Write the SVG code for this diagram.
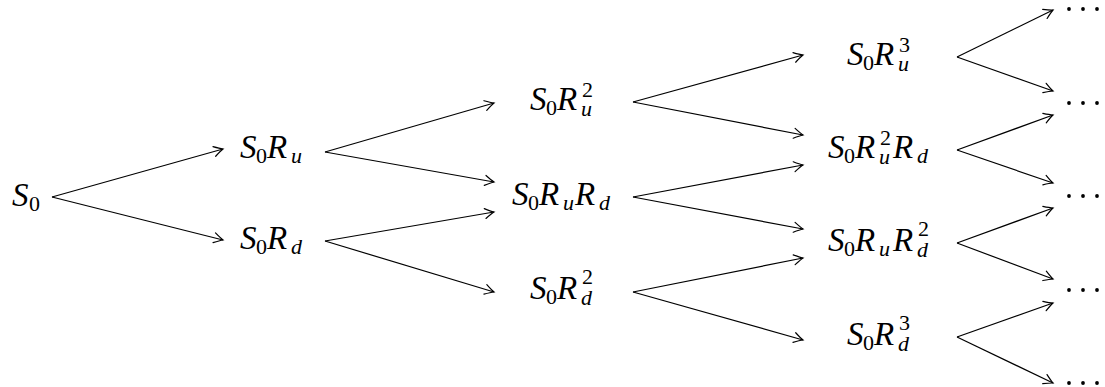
<svg xmlns="http://www.w3.org/2000/svg" width="1105" height="387" viewBox="0 0 1105 387">
<style>
text{font-family:'Liberation Serif','Times New Roman',serif;font-size:33px;font-style:italic;fill:#000}
.s{font-size:22px}
.n{font-style:normal}
.e{stroke:#000;stroke-width:1.2;fill:none;marker-end:url(#ar)}
</style>
<defs>
<marker id="ar" viewBox="-11 -7 13 14" refX="0" refY="0" markerWidth="13" markerHeight="14" markerUnits="userSpaceOnUse" orient="auto">
<path d="M -9 -5 Q -3 -1.3 0 0 Q -3 1.3 -9 5" stroke="#000" stroke-width="1.2" fill="none" stroke-linecap="round"/>
</marker>
<g id="dots"><circle cx="1069" cy="0" r="1.9"/><circle cx="1083" cy="0" r="1.9"/><circle cx="1097" cy="0" r="1.9"/></g>
</defs>
<rect width="1105" height="387" fill="#fff"/>
<g id="connectors">
<line class="e" x1="52" y1="197" x2="223" y2="149"/>
<line class="e" x1="52" y1="197" x2="223" y2="240"/>
<line class="e" x1="325" y1="152" x2="494" y2="103"/>
<line class="e" x1="325" y1="152" x2="494" y2="182"/>
<line class="e" x1="325" y1="241" x2="494" y2="212"/>
<line class="e" x1="325" y1="241" x2="494" y2="292"/>
<line class="e" x1="633" y1="102" x2="803" y2="55"/>
<line class="e" x1="633" y1="102" x2="803" y2="135"/>
<line class="e" x1="633" y1="197" x2="803" y2="165"/>
<line class="e" x1="633" y1="197" x2="803" y2="229"/>
<line class="e" x1="633" y1="292" x2="803" y2="258"/>
<line class="e" x1="633" y1="292" x2="803" y2="340"/>
<line class="e" x1="957" y1="57" x2="1053" y2="10"/>
<line class="e" x1="957" y1="57" x2="1053" y2="91"/>
<line class="e" x1="957" y1="150" x2="1053" y2="115"/>
<line class="e" x1="957" y1="150" x2="1053" y2="183"/>
<line class="e" x1="957" y1="243" x2="1053" y2="208"/>
<line class="e" x1="957" y1="243" x2="1053" y2="279"/>
<line class="e" x1="957" y1="337" x2="1053" y2="303"/>
<line class="e" x1="957" y1="337" x2="1053" y2="383"/>
</g>
<g id="n-S0"><text><tspan x="12" y="206">S</tspan><tspan class="s n" x="29" y="211">0</tspan></text></g>
<g id="n-Ru"><text><tspan x="240" y="158">S</tspan><tspan class="s n" x="256" y="163">0</tspan><tspan x="267" y="158">R</tspan><tspan class="s" x="291" y="163">u</tspan></text></g>
<g id="n-Rd"><text><tspan x="240" y="249">S</tspan><tspan class="s n" x="256" y="254">0</tspan><tspan x="267" y="249">R</tspan><tspan class="s" x="291" y="254">d</tspan></text></g>
<g id="n-Ru2"><text><tspan x="530" y="110">S</tspan><tspan class="s n" x="546" y="115">0</tspan><tspan x="557" y="110">R</tspan><tspan class="s" x="581" y="116">u</tspan><tspan class="s n" x="582" y="97">2</tspan></text></g>
<g id="n-RuRd"><text><tspan x="512" y="205">S</tspan><tspan class="s n" x="528" y="210">0</tspan><tspan x="539" y="205">R</tspan><tspan class="s" x="563" y="210">u</tspan><tspan x="575" y="205">R</tspan><tspan class="s" x="599" y="210">d</tspan></text></g>
<g id="n-Rd2"><text><tspan x="530" y="299">S</tspan><tspan class="s n" x="546" y="304">0</tspan><tspan x="557" y="299">R</tspan><tspan class="s" x="581" y="305">d</tspan><tspan class="s n" x="582" y="284">2</tspan></text></g>
<g id="n-Ru3"><text><tspan x="847" y="65">S</tspan><tspan class="s n" x="863" y="70">0</tspan><tspan x="874" y="65">R</tspan><tspan class="s" x="898" y="71">u</tspan><tspan class="s n" x="899" y="52">3</tspan></text></g>
<g id="n-Ru2Rd"><text><tspan x="828" y="158">S</tspan><tspan class="s n" x="844" y="163">0</tspan><tspan x="855" y="158">R</tspan><tspan class="s" x="879" y="164">u</tspan><tspan class="s n" x="880" y="145">2</tspan><tspan x="893" y="158">R</tspan><tspan class="s" x="917" y="163">d</tspan></text></g>
<g id="n-RuRd2"><text><tspan x="828" y="251">S</tspan><tspan class="s n" x="844" y="256">0</tspan><tspan x="855" y="251">R</tspan><tspan class="s" x="879" y="256">u</tspan><tspan x="893" y="251">R</tspan><tspan class="s" x="917" y="257">d</tspan><tspan class="s n" x="918" y="236">2</tspan></text></g>
<g id="n-Rd3"><text><tspan x="847" y="345">S</tspan><tspan class="s n" x="863" y="350">0</tspan><tspan x="874" y="345">R</tspan><tspan class="s" x="898" y="351">d</tspan><tspan class="s n" x="899" y="330">3</tspan></text></g>
<g id="n-dots1"><use href="#dots" y="9"/></g>
<g id="n-dots2"><use href="#dots" y="103"/></g>
<g id="n-dots3"><use href="#dots" y="196"/></g>
<g id="n-dots4"><use href="#dots" y="290"/></g>
<g id="n-dots5"><use href="#dots" y="383"/></g>
</svg>
